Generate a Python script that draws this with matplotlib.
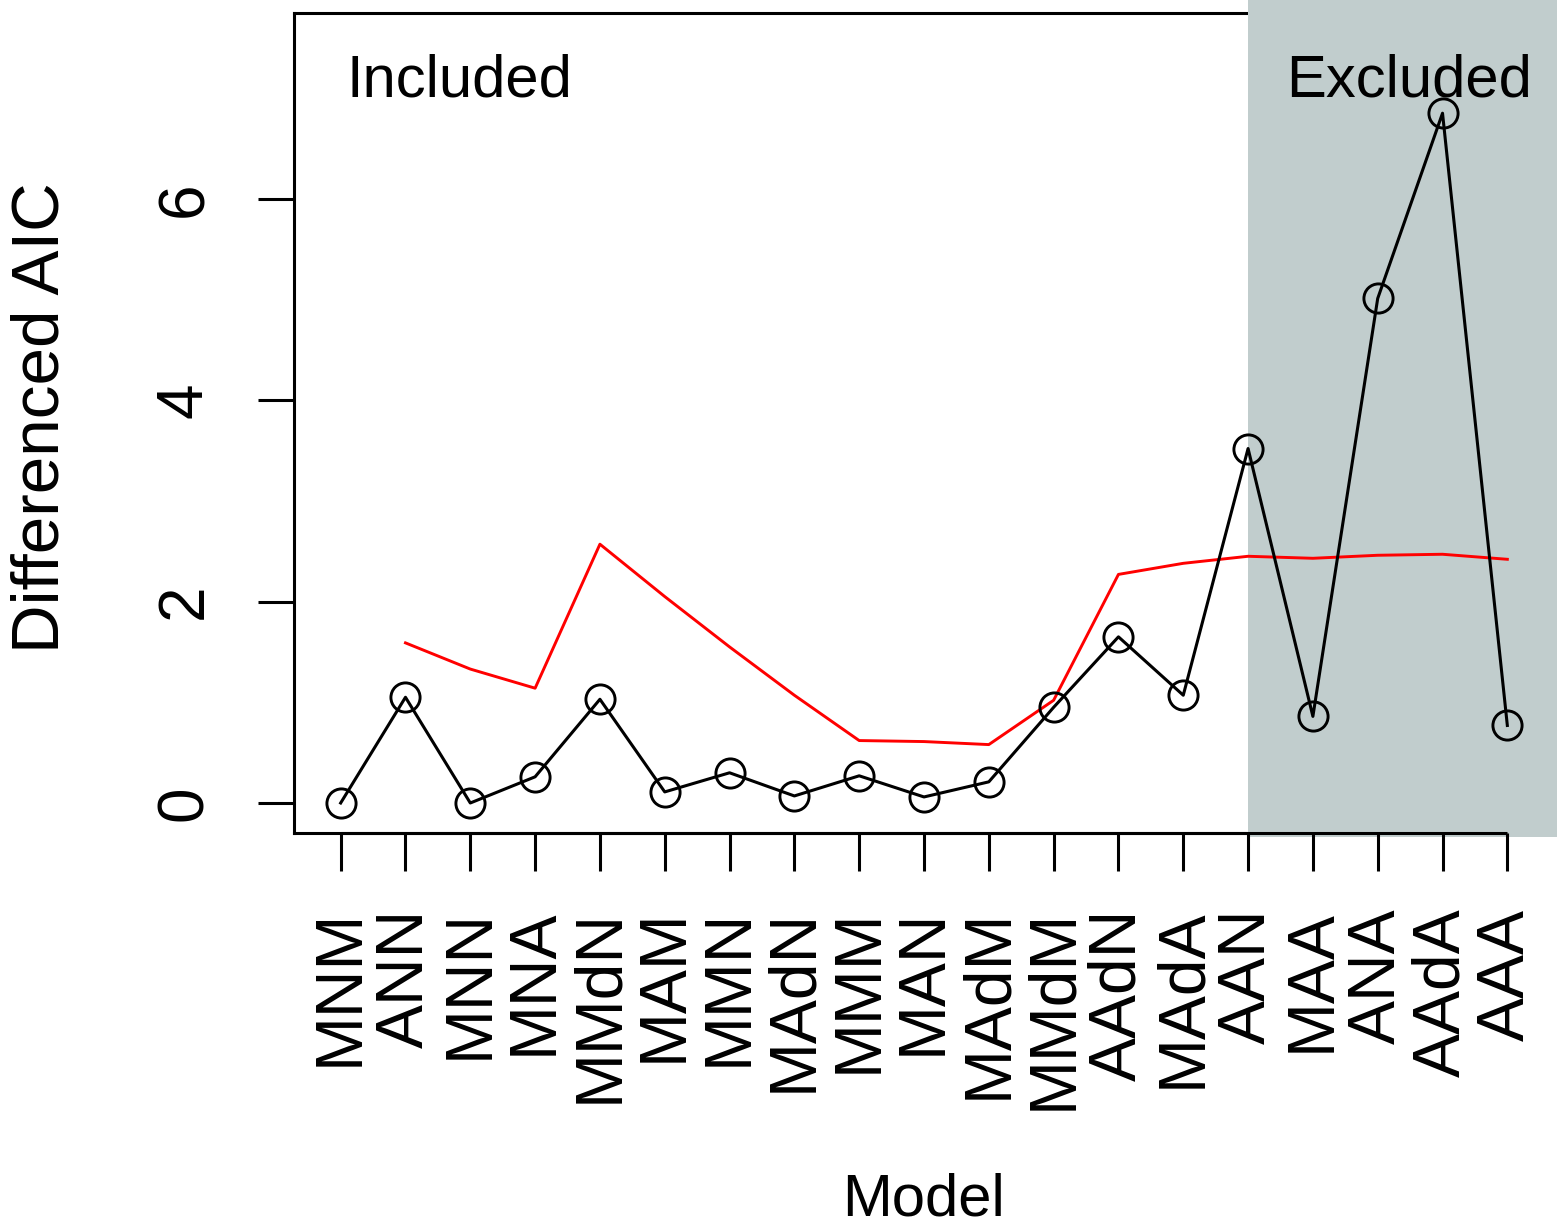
import matplotlib
matplotlib.use("Agg")
import matplotlib.pyplot as plt
from matplotlib.patches import Rectangle

plt.rcParams['font.family'] = ['Liberation Sans', 'DejaVu Sans']

models = ['MNM', 'ANN', 'MNN', 'MNA', 'MMdN', 'MAM', 'MMN', 'MAdN', 'MMM', 'MAN',
          'MAdM', 'MMdM', 'AAdN', 'MAdA', 'AAN', 'MAA', 'ANA', 'AAdA', 'AAA']
daic = [0.0, 1.05, 0.0, 0.26, 1.03, 0.11, 0.30, 0.07, 0.27, 0.06,
        0.21, 0.95, 1.65, 1.07, 3.52, 0.86, 5.01, 6.85, 0.77]
# red curve starts at the second model
ref_x = list(range(2, 20))
ref_y = [1.59, 1.33, 1.14, 2.57, 2.05, 1.55, 1.07, 0.62, 0.61,
         0.58, 1.02, 2.27, 2.38, 2.45, 2.43, 2.46, 2.47, 2.42]
n_included = 14

x = list(range(1, len(models) + 1))

fig = plt.figure(figsize=(15.57, 12.29), dpi=100)
ax = fig.add_axes([294/1557, 1-833/1229, 1260/1557, 820/1229])
ax.set_xlim(0.28, 19.72)
ax.set_ylim(-0.298, 7.845)

lw = 2.2
for s in ['left', 'top', 'bottom']:
    ax.spines[s].set_linewidth(lw)
ax.spines['right'].set_visible(False)
ax.spines['top'].set_zorder(1)
ax.spines['bottom'].set_zorder(1)
ax.set_axisbelow(False)

# shaded block for the excluded models
ax.add_patch(Rectangle((n_included + 1, -0.34), 20, 9, transform=ax.transData,
                       facecolor='#C1CDCD', edgecolor='none', zorder=2, clip_on=False))
ax.set_xlim(0.28, 19.72)
ax.add_patch(Rectangle((1.0, 0), 0.002, 1.0, transform=ax.transAxes,
                       facecolor='#C1CDCD', edgecolor='none', zorder=2, clip_on=False))

# axis line across the ticks
ax.plot([1, len(models)], [ax.get_ylim()[0]] * 2, color='black', lw=lw,
        clip_on=False, zorder=2.6, solid_capstyle='butt')

ax.plot(ref_x, ref_y, color='red', lw=2.1, zorder=3)
ax.plot(x, daic, color='black', lw=lw, marker='o', markersize=21,
        markerfacecolor='none', markeredgewidth=2.1, zorder=4, clip_on=False)

ax.set_xticks(x)
ax.set_xticklabels(models, rotation=90, fontsize=47.5)
ax.set_yticks([0, 2, 4, 6])
ax.set_yticklabels(['0', '2', '4', '6'], rotation=90, fontsize=46, va='center')
ax.tick_params(axis='x', direction='out', length=27.5, width=lw, pad=27)
ax.tick_params(axis='y', direction='out', length=26, width=lw, pad=31)

ax.text(1.09, 7.02, 'Included', fontsize=43, ha='left', va='baseline', zorder=5)
ax.text(17.48, 7.02, 'Excluded', fontsize=43, ha='center', va='baseline', zorder=5)

fig.text(924/1557, 0.001, 'Model', fontsize=43, ha='center', va='bottom')
fig.text(42/1557, 1-418/1229, 'Differenced AIC', fontsize=48.5, rotation=90,
         ha='center', va='center')

fig.savefig('out.png', dpi=100)
